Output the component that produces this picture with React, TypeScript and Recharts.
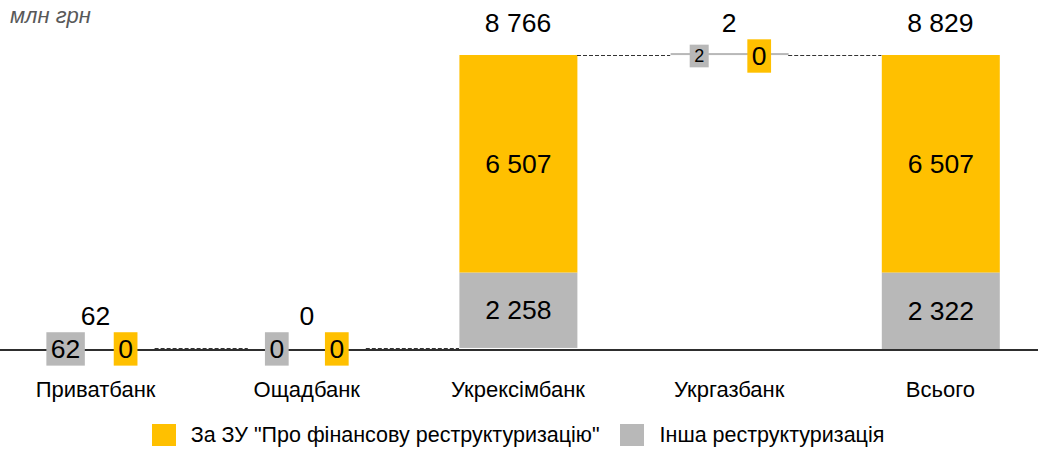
import React from "react";
import { ComposedChart, Bar, Line, XAxis, YAxis, LabelList, Legend } from "recharts";

const categories = ["Приватбанк", "Ощадбанк", "Укрексімбанк", "Укргазбанк", "Всього"];
const otherValues = [62, 0, 2258, 2, 2322];
const lawValues = [0, 0, 6507, 0, 6507];
const totalLabels = [62, 0, 8766, 2, 8829];
const totalCategory = "Всього";
const shrunkLabels = ["Укргазбанк"];

const lawName = 'За ЗУ "Про фінансову реструктуризацію"';
const otherName = "Інша реструктуризація";
const unitLabel = "млн грн";

const YELLOW = "#FFC000";
const GRAY = "#B8B8B8";
const FONT = "'Liberation Sans', Arial, sans-serif";
const CHART_W = 1056;
const BAR_SIZE = 118;
const LABEL_SIZE = 26.5;

// waterfall: each bar starts where the previous one ended, the total starts from 0
const bases: number[] = [];
categories.forEach((c, i) => {
  if (c === totalCategory || i === 0) bases.push(0);
  else bases.push(bases[i - 1] + otherValues[i - 1] + lawValues[i - 1]);
});

const data = categories.map((name, i) => ({
  name,
  base: bases[i],
  other: otherValues[i],
  law: lawValues[i],
  top: bases[i] + otherValues[i] + lawValues[i],
}));

const fmt = (n: number) => String(n).replace(/\B(?=(\d{3})+(?!\d))/g, " ");

const getBox = (p: any) => {
  const vb = p.viewBox && p.viewBox.width !== undefined ? p.viewBox : p;
  return { x: Number(vb.x), y: Number(vb.y), width: Number(vb.width), height: Number(vb.height) };
};

const ValueBox = ({ cx, cy, text, fill, size }: any) => {
  const w = text.length * 0.556 * size + 9;
  const h = size * 1.26;
  return (
    <g>
      <rect x={cx - w / 2} y={cy - h / 2} width={w} height={h} fill={fill} />
      <text x={cx} y={cy} textAnchor="middle" dominantBaseline="central" fontSize={size} fill="#000">
        {text}
      </text>
    </g>
  );
};

// thin segments: hidden when they lie on the axis, kept visible as a line when floating
const GrayShape = (p: any) => {
  if (!p.payload || p.payload.other === 0) return null;
  if (p.payload.base === 0 && p.height < 3) return null;
  const h = Math.max(p.height, 2);
  return <rect x={p.x} y={p.y + p.height - h} width={p.width} height={h} fill={GRAY} />;
};

// values of the tall segments, written in the middle of the segment
const InsideLabel = (p: any) => {
  const { x, y, width, height } = getBox(p);
  if (!(height > 40)) return null;
  return (
    <text
      x={x + width / 2}
      y={y + height / 2}
      textAnchor="middle"
      dominantBaseline="central"
      fontSize={LABEL_SIZE}
      fill="#000"
    >
      {fmt(Number(p.value))}
    </text>
  );
};

// totals above the bars, connectors, and boxed values for the flat bars
const TopLabel = (p: any) => {
  const i = p.index;
  const cx = Number(p.x);
  const y = Number(p.y);
  const lineY = Math.round(y) + 0.5;
  const step = CHART_W / categories.length;
  const flat = otherValues[i] + lawValues[i] < 500;
  const size = shrunkLabels.includes(categories[i]) ? 18 : LABEL_SIZE;
  return (
    <g>
      {i < categories.length - 1 && (
        <line
          x1={cx + BAR_SIZE / 2}
          x2={cx + step - BAR_SIZE / 2}
          y1={lineY}
          y2={lineY}
          stroke="#333"
          strokeWidth={1}
          strokeDasharray="4 2"
        />
      )}
      {flat && <ValueBox cx={cx - 30} cy={y + 1} text={fmt(otherValues[i])} fill={GRAY} size={size} />}
      {flat && <ValueBox cx={cx + 30} cy={y + 1} text={fmt(lawValues[i])} fill={YELLOW} size={LABEL_SIZE} />}
      <text x={cx} y={y - 32} textAnchor="middle" dominantBaseline="central" fontSize={LABEL_SIZE} fill="#000">
        {fmt(totalLabels[i])}
      </text>
    </g>
  );
};

const LegendContent = () => (
  <div
    style={{
      height: 44,
      boxSizing: "border-box",
      paddingTop: 6,
      display: "flex",
      justifyContent: "center",
      alignItems: "center",
      fontFamily: FONT,
      fontSize: 21.5,
      color: "#000",
    }}
  >
    <span style={{ width: 24, height: 22, background: YELLOW, marginRight: 15 }} />
    <span>{lawName}</span>
    <span style={{ width: 24, height: 22, background: GRAY, marginLeft: 20, marginRight: 16 }} />
    <span>{otherName}</span>
  </div>
);

export default function App() {
  return (
    <div
      style={{
        position: "absolute",
        left: 0,
        top: 0,
        width: 1038,
        height: 454,
        overflow: "hidden",
        background: "#fff",
        fontFamily: FONT,
      }}
    >
      <div
        style={{
          position: "absolute",
          left: 10,
          top: 3,
          fontSize: 22,
          fontStyle: "italic",
          color: "#595959",
        }}
      >
        {unitLabel}
      </div>
      <div style={{ position: "absolute", left: -10, top: 0 }}>
        <ComposedChart
          width={CHART_W}
          height={454}
          data={data}
          margin={{ top: 55, right: 0, bottom: 0, left: 0 }}
        >
          <YAxis hide domain={[0, 8829]} />
          <Legend verticalAlign="bottom" content={LegendContent} />
          <Bar dataKey="base" stackId="w" fill="transparent" barSize={BAR_SIZE} isAnimationActive={false} legendType="none" />
          <Bar
            dataKey="other"
            stackId="w"
            fill={GRAY}
            barSize={BAR_SIZE}
            shape={GrayShape}
            isAnimationActive={false}
            name={otherName}
          >
            <LabelList dataKey="other" content={InsideLabel} />
          </Bar>
          <Bar dataKey="law" stackId="w" fill={YELLOW} barSize={BAR_SIZE} isAnimationActive={false} name={lawName}>
            <LabelList dataKey="law" content={InsideLabel} />
          </Bar>
          <XAxis
            dataKey="name"
            axisLine={{ stroke: "#2e2e2e", strokeWidth: 2 }}
            tickLine={false}
            tickSize={0}
            tickMargin={31}
            height={60}
            interval={0}
            tick={{ fontSize: 22, fill: "#000", fontFamily: FONT }}
          />
          <Line
            dataKey="top"
            stroke="none"
            dot={false}
            activeDot={false}
            isAnimationActive={false}
            legendType="none"
          >
            <LabelList dataKey="top" content={TopLabel} />
          </Line>
        </ComposedChart>
      </div>
    </div>
  );
}
